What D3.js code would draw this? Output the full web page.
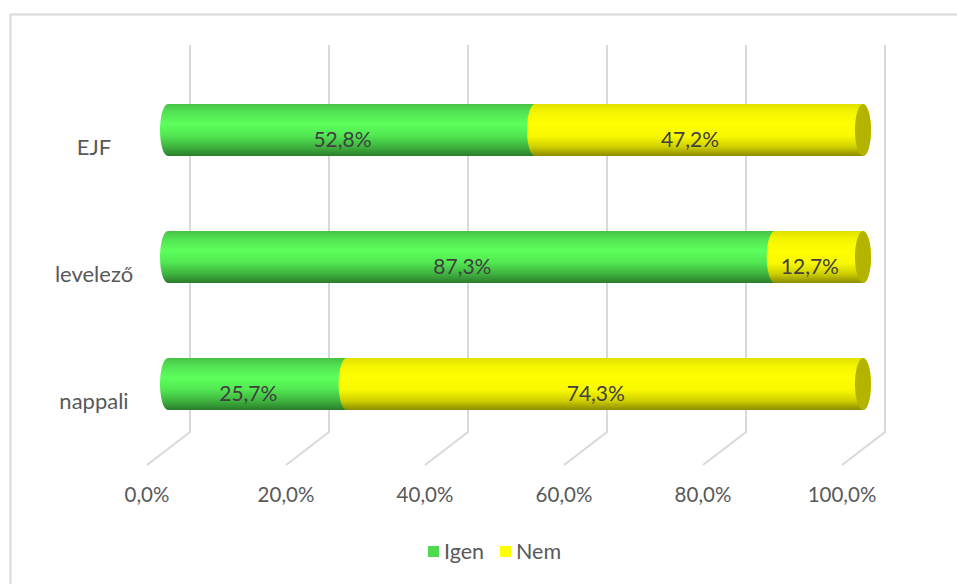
<!DOCTYPE html>
<html><head><meta charset="utf-8">
<script src="https://cdn.jsdelivr.net/npm/d3@7"></script>
<style>body{margin:0;background:#fff}svg{display:block}text{font-family:Lato,"Liberation Sans",sans-serif}</style>
</head><body>
<svg id="c" width="957" height="584"></svg>
<script>
const categories = ["EJF", "levelező", "nappali"];
const igen = [52.8, 87.3, 25.7];
const nem = [47.2, 12.7, 74.3];
const seriesNames = ["Igen", "Nem"];
const tickValues = [0, 20, 40, 60, 80, 100];
const tickLabels = ["0,0%", "20,0%", "40,0%", "60,0%", "80,0%", "100,0%"];

const svg = d3.select("#c");
const W = 957, H = 584;
svg.append("rect").attr("width", W).attr("height", H).attr("fill", "#fff");
svg.append("path").attr("d", "M10.5,584 L10.5,14.5 L957,14.5").attr("fill", "none").attr("stroke", "#d9d9d9").attr("stroke-width", 2);

const xBar = d3.scaleLinear().domain([0, 100]).range([168, 863]);
const xBack = d3.scaleLinear().domain([0, 100]).range([190, 885]);
const xFront = d3.scaleLinear().domain([0, 100]).range([147, 842]);
const y = d3.scalePoint().domain(categories).range([130, 384]);
const h = 26, rx = 8;

const defs = svg.append("defs");
function grad(id, stops) {
  const g = defs.append("linearGradient").attr("id", id).attr("x1", 0).attr("y1", 0).attr("x2", 0).attr("y2", 1);
  stops.forEach(s => g.append("stop").attr("offset", s[0]).attr("stop-color", s[1]));
}
grad("gGreen", [[0, "#46c246"], [0.15, "#52e252"], [0.38, "#5cff5c"], [0.6, "#52e852"], [0.82, "#3fb43f"], [1, "#2b7d2b"]]);
grad("gYellow", [[0, "#e0e000"], [0.15, "#f4f400"], [0.38, "#ffff00"], [0.62, "#f8f800"], [0.82, "#d0d000"], [1, "#8c8c00"]]);
const fills = ["url(#gGreen)", "url(#gYellow)"];
const legendColors = ["#4fdb4f", "#ffff00"];

const grid = svg.append("g");
tickValues.forEach(t => {
  grid.append("path")
    .attr("d", `M${xBack(t)},45 L${xBack(t)},432 L${xFront(t)},465`)
    .attr("fill", "none").attr("stroke", "#d9d9d9").attr("stroke-width", 2);
});

svg.append("g").selectAll("text").data(tickValues).join("text")
  .attr("x", d => xFront(d)).attr("y", 502)
  .attr("text-anchor", "middle").attr("font-size", 20.5).attr("fill", "#595959")
  .text((d, i) => tickLabels[i]);

svg.append("g").selectAll("text").data(categories).join("text")
  .attr("x", 94).attr("y", d => y(d) + 25)
  .attr("text-anchor", "middle").attr("font-size", 22).attr("fill", "#595959")
  .text(d => d);

function body(x0, x1, cy) {
  return `M${x0},${cy - h} L${x1},${cy - h} A${rx},${h} 0 0 1 ${x1},${cy + h} L${x0},${cy + h} A${rx},${h} 0 0 1 ${x0},${cy - h} Z`;
}
const bars = svg.append("g");
categories.forEach((c, i) => {
  const cy = y(c);
  const vals = [igen[i], nem[i]];
  let acc = 0;
  vals.forEach((v, s) => {
    const x0 = xBar(acc), x1 = xBar(acc + v);
    bars.append("path").attr("d", body(x0, x1, cy)).attr("fill", fills[s]);
    acc += v;
  });
  bars.append("ellipse").attr("cx", xBar(acc)).attr("cy", cy).attr("rx", rx).attr("ry", h).attr("fill", "#b3b300");
  acc = 0;
  vals.forEach((v, s) => {
    bars.append("text")
      .attr("x", xBar(acc + v / 2) - 9).attr("y", cy + 17)
      .attr("text-anchor", "middle").attr("font-size", 21).attr("fill", "#404040")
      .text(v.toFixed(1).replace(".", ",") + "%");
    acc += v;
  });
});

const leg = svg.append("g");
const lx = [428, 500];
seriesNames.forEach((n, i) => {
  leg.append("rect").attr("x", lx[i]).attr("y", 546).attr("width", 11).attr("height", 11).attr("fill", legendColors[i]);
  leg.append("text").attr("x", lx[i] + 16).attr("y", 559).attr("font-size", 21.5).attr("fill", "#595959").text(n);
});
</script>
</body></html>
